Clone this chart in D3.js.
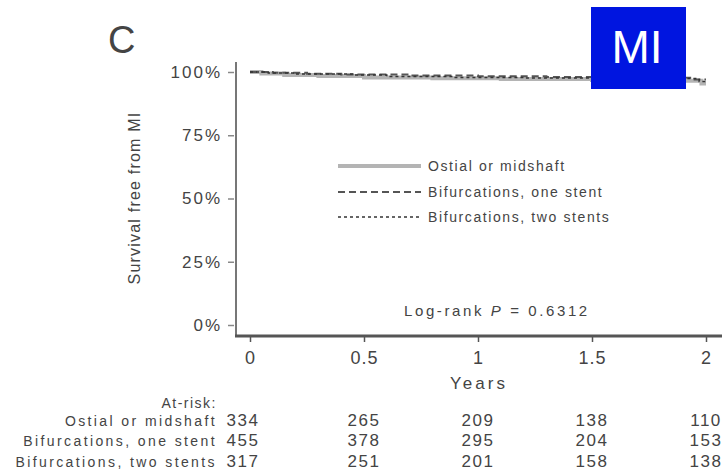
<!DOCTYPE html>
<html>
<head>
<meta charset="utf-8">
<script src="https://cdn.jsdelivr.net/npm/d3@7"></script>
<style>
  body { margin: 0; background: #fff; }
  text { font-family: "Liberation Sans", Arial, sans-serif; fill: #444; }
</style>
</head>
<body>
<div id="chart"></div>
<script>
// svg params
var svgWidth = 724;
var svgHeight = 474;

// survival curves (years, proportion free from MI)
var groups = ["Ostial or midshaft", "Bifurcations, one stent", "Bifurcations, two stents"];
var ostialT = [0, 0.05, 0.15, 0.3, 0.5, 0.8, 1.1, 1.5, 1.9, 1.98];
var ostialS = [1, 0.994, 0.988, 0.984, 0.978, 0.975, 0.972, 0.968, 0.965, 0.955];
var oneT = [0, 0.1, 0.25, 0.4, 0.7, 1.0, 1.3, 1.7, 1.95];
var oneS = [1, 0.997, 0.993, 0.99, 0.986, 0.983, 0.98, 0.977, 0.97];
var twoT = [0, 0.08, 0.2, 0.45, 0.6, 0.9, 1.2, 1.6, 1.97];
var twoS = [1, 0.996, 0.992, 0.988, 0.982, 0.978, 0.976, 0.974, 0.962];

// axis ticks
var xTicks = [0, 0.5, 1, 1.5, 2];
var yTicks = [0, 0.25, 0.5, 0.75, 1];

// numbers at risk
var riskOstial = [334, 265, 209, 138, 110];
var riskOne = [455, 378, 295, 204, 153];
var riskTwo = [317, 251, 201, 158, 138];

var svg = d3.select("#chart")
  .append("svg")
  .attr("width", svgWidth)
  .attr("height", svgHeight);

var xScale = d3.scaleLinear().domain([0, 2]).range([250, 706]);
var yScale = d3.scaleLinear().domain([0, 1]).range([325, 72]);

// panel letter
svg.append("text")
  .attr("x", 108).attr("y", 53)
  .style("font-size", "38px")
  .text("C");

// axis lines
svg.append("line")
  .attr("x1", 236).attr("x2", 236)
  .attr("y1", 62).attr("y2", 337)
  .attr("stroke", "#777").attr("stroke-width", 2);
svg.append("line")
  .attr("x1", 235).attr("x2", 722)
  .attr("y1", 336).attr("y2", 336)
  .attr("stroke", "#555").attr("stroke-width", 3);

// y axis
var leftAxis = d3.axisLeft(yScale)
  .tickValues(yTicks)
  .tickSize(6)
  .tickPadding(6)
  .tickFormat(d3.format(".0%"));
var gy = svg.append("g")
  .attr("transform", "translate(234,0)")
  .call(leftAxis);
gy.select(".domain").remove();
gy.selectAll("line").attr("stroke", "#888").attr("stroke-width", 1.5);
gy.selectAll("text")
  .style("font-size", "17px")
  .style("letter-spacing", "2px")
  .style("font-family", "Liberation Sans, Arial, sans-serif")
  .attr("fill", "#444");

// x axis
var bottomAxis = d3.axisBottom(xScale)
  .tickValues(xTicks)
  .tickSize(5)
  .tickPadding(9)
  .tickFormat(d3.format("~g"));
var gx = svg.append("g")
  .attr("transform", "translate(0,337)")
  .call(bottomAxis);
gx.select(".domain").remove();
gx.selectAll("line").attr("stroke", "#555").attr("stroke-width", 1.5);
gx.selectAll("text")
  .style("font-size", "18px")
  .style("letter-spacing", "1px")
  .style("font-family", "Liberation Sans, Arial, sans-serif")
  .attr("fill", "#444");

// axis titles
svg.append("text")
  .attr("x", 479).attr("y", 389)
  .attr("text-anchor", "middle")
  .style("font-size", "17px")
  .style("letter-spacing", "3px")
  .text("Years");

svg.append("text")
  .attr("transform", "translate(140,198) rotate(-90)")
  .attr("text-anchor", "middle")
  .style("font-size", "16px")
  .style("letter-spacing", "1.2px")
  .text("Survival free from MI");

// curves
var line = d3.line()
  .x(d => xScale(d[0]))
  .y(d => yScale(d[1]))
  .curve(d3.curveStepAfter);

function pts(t, s) {
  var p = t.map((v, i) => [v, s[i]]);
  p.push([2, s[s.length - 1]]);
  return p;
}

var styles = [
  { stroke: "#b4b4b4", width: 4, dash: null },
  { stroke: "#555", width: 2, dash: "7,4" },
  { stroke: "#333", width: 1.5, dash: "3,3" }
];

var curves = [pts(ostialT, ostialS), pts(oneT, oneS), pts(twoT, twoS)];

svg.selectAll(".curve")
  .data(curves)
  .enter()
  .append("path")
  .attr("class", "curve")
  .attr("d", line)
  .attr("fill", "none")
  .attr("stroke", (d, i) => styles[i].stroke)
  .attr("stroke-width", (d, i) => styles[i].width)
  .attr("stroke-dasharray", (d, i) => styles[i].dash);

// legend
var legendY = [166, 192, 217];
groups.forEach(function(g, i) {
  svg.append("line")
    .attr("x1", 338).attr("x2", 421)
    .attr("y1", legendY[i]).attr("y2", legendY[i])
    .attr("stroke", styles[i].stroke)
    .attr("stroke-width", styles[i].width)
    .attr("stroke-dasharray", styles[i].dash);
  svg.append("text")
    .attr("x", 428).attr("y", legendY[i] + 5)
    .style("font-size", "14px")
    .style("letter-spacing", "1.6px")
    .text(g);
});

// log-rank
var lr = svg.append("text")
  .attr("x", 404).attr("y", 316)
  .style("font-size", "15px")
  .style("letter-spacing", "2.6px");
lr.append("tspan").text("Log-rank ");
lr.append("tspan").style("font-style", "italic").text("P");
lr.append("tspan").text(" = 0.6312");

// MI badge
svg.append("rect")
  .attr("x", 591).attr("y", 7)
  .attr("width", 95).attr("height", 82)
  .attr("fill", "#0015e0");
svg.append("text")
  .attr("x", 637).attr("y", 63)
  .attr("text-anchor", "middle")
  .style("font-size", "46px")
  .style("fill", "#fff")
  .text("MI");

// at-risk table
svg.append("text")
  .attr("x", 217).attr("y", 408)
  .attr("text-anchor", "end")
  .style("font-size", "14px")
  .style("letter-spacing", "1.5px")
  .text("At-risk:");

var risks = [riskOstial, riskOne, riskTwo];
var rowY = [426, 446, 467];
risks.forEach(function(r, i) {
  svg.append("text")
    .attr("x", 217).attr("y", rowY[i])
    .attr("text-anchor", "end")
    .style("font-size", "14px")
    .style("letter-spacing", "2.4px")
    .text(groups[i]);
  svg.selectAll(".risk" + i)
    .data(r)
    .enter()
    .append("text")
    .attr("class", "risk" + i)
    .attr("x", (d, j) => xScale(xTicks[j]) - (j === 0 ? 7 : 0))
    .attr("y", rowY[i])
    .attr("text-anchor", "middle")
    .style("font-size", "17px")
    .style("letter-spacing", "1.5px")
    .text(d => d);
});
</script>
</body>
</html>
